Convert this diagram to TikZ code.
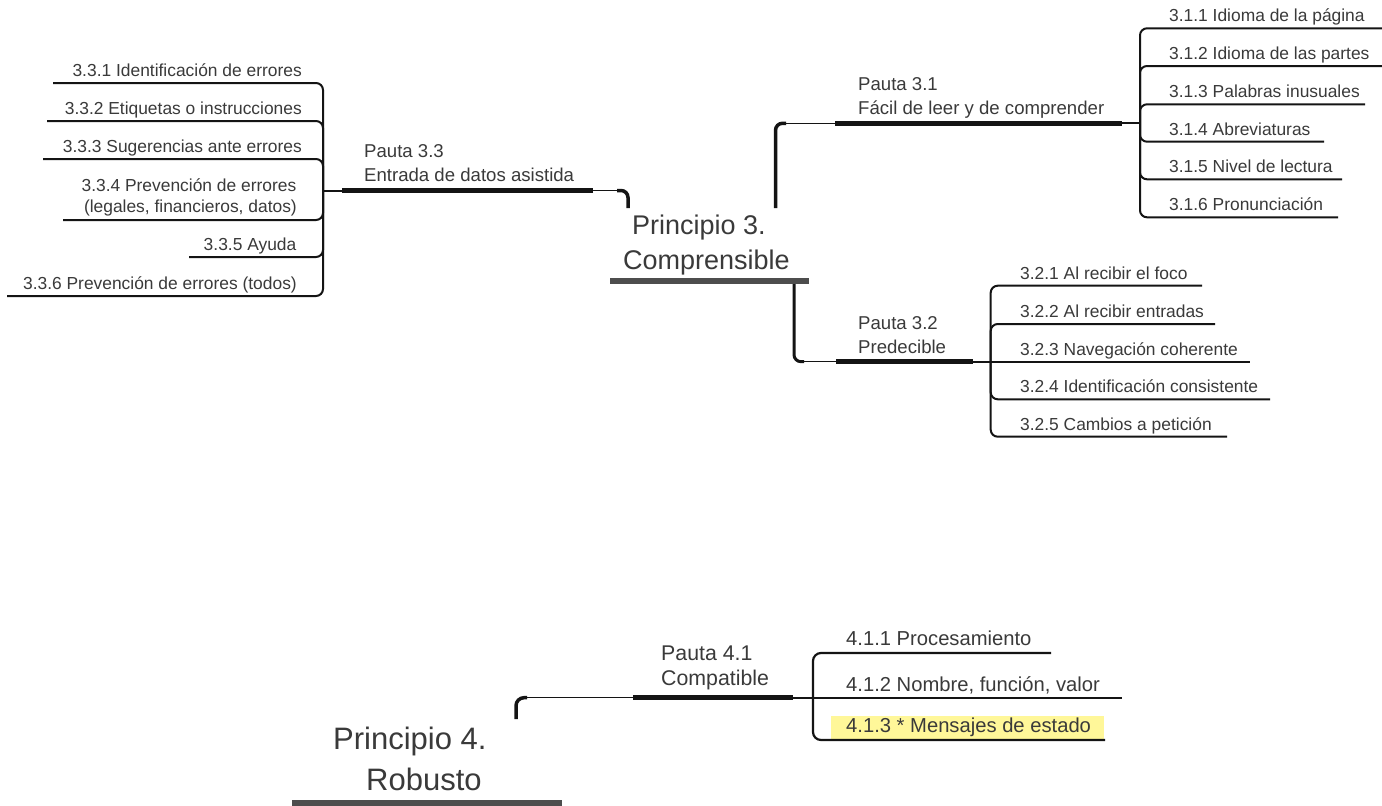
\documentclass[tikz,border=0pt]{standalone}
\usepackage{fontspec}
\setmainfont{Liberation Sans}
\definecolor{textgray}{HTML}{3A3A3A}
\definecolor{ink}{HTML}{141414}
\definecolor{barcol}{HTML}{4D4D4D}
\definecolor{hl}{HTML}{FFF799}
\begin{document}
\begin{tikzpicture}[x=1pt,y=-1pt,
  leaftxt/.style={inner sep=0pt, text=textgray, font=\fontsize{17.4}{21.5}\selectfont},
  leaftxtL/.style={inner sep=0pt, text=textgray, font=\fontsize{20.2}{24}\selectfont},
  pautatxt/.style={inner sep=0pt, text=textgray, font=\fontsize{18.6}{24}\selectfont},
  pautatxtL/.style={inner sep=0pt, text=textgray, font=\fontsize{21.3}{25}\selectfont},
  roottxt/.style={inner sep=0pt, text=textgray, font=\fontsize{27}{32}\selectfont},
  roottxtL/.style={inner sep=0pt, text=textgray, font=\fontsize{31}{36}\selectfont},
  leaf/.style={draw=ink, line width=2pt, rounded corners=7pt},
  leafL/.style={draw=ink, line width=2.2pt, rounded corners=8pt},
  stem/.style={draw=ink, line width=3.5pt, rounded corners=7pt},
  link/.style={draw=ink, line width=1.4pt},
  under/.style={draw=ink, line width=4.5pt},
  rootbar/.style={fill=barcol}
]
\useasboundingbox (0,0) rectangle (1382,806);
\fill[white] (0,0) rectangle (1382,806);

% ---------- Principio 3 ----------
\fill[rootbar] (610,278) rectangle (809,284);
\node[roottxt, anchor=base west] (p3a) at (632,234) {Principio 3.};
\node[roottxt, anchor=base west] (p3b) at (623,269) {Comprensible};

% Pauta 3.1 branch
\coordinate (s31) at (775.5,208);
\coordinate (k31) at (786,123.3);
\coordinate (u31a) at (835,123.3);
\coordinate (u31b) at (1122,123.3);
\coordinate (b31) at (1140,123.3);
\draw[stem] (s31) |- (k31);
\draw[link] (k31) -- (u31a);
\draw[under] (u31a) -- (u31b);
\draw[draw=ink, line width=2pt] (u31b) -- (b31);
\node[pautatxt, anchor=base west] (t31a) at (858,90.5) {Pauta 3.1};
\node[pautatxt, anchor=base west] (t31b) at (858,114.5) {Fácil de leer y de comprender};

\coordinate (e311) at (1382,28.3);
\coordinate (e312) at (1382,66);
\coordinate (e313) at (1365,104.3);
\coordinate (e314) at (1324,141.7);
\coordinate (e315) at (1342,179.3);
\coordinate (e316) at (1338,217.3);
\foreach \c in {e311,e312,e313,e314,e315,e316} \draw[leaf] (b31) |- (\c);
\node[leaftxt, anchor=base west] (n311) at (1169,21.7) {3.1.1 Idioma de la página};
\node[leaftxt, anchor=base west] (n312) at (1169,59.4) {3.1.2 Idioma de las partes};
\node[leaftxt, anchor=base west] (n313) at (1169,97.7) {3.1.3 Palabras inusuales};
\node[leaftxt, anchor=base west] (n314) at (1169,135.1) {3.1.4 Abreviaturas};
\node[leaftxt, anchor=base west] (n315) at (1169,172.7) {3.1.5 Nivel de lectura};
\node[leaftxt, anchor=base west] (n316) at (1169,210.7) {3.1.6 Pronunciación};

% Pauta 3.2 branch
\coordinate (s32) at (794,284);
\coordinate (k32) at (804,361.7);
\coordinate (u32a) at (836,361.7);
\coordinate (u32b) at (973,361.7);
\coordinate (b32) at (990.7,361.7);
\draw[stem, line width=3pt] (s32) |- (k32);
\draw[link] (k32) -- (u32a);
\draw[under] (u32a) -- (u32b);
\draw[draw=ink, line width=2pt] (u32b) -- (b32);
\node[pautatxt, anchor=base west] (t32a) at (858,329) {Pauta 3.2};
\node[pautatxt, anchor=base west] (t32b) at (858,353.3) {Predecible};

\coordinate (e321) at (1202,285.7);
\coordinate (e322) at (1215,324);
\coordinate (e323) at (1250,361.7);
\coordinate (e324) at (1270,399.3);
\coordinate (e325) at (1227,436.7);
\foreach \c in {e321,e322,e324,e325} \draw[leaf] (b32) |- (\c);
\draw[draw=ink, line width=2pt] (b32) -- (e323);
\node[leaftxt, anchor=base west] (n321) at (1020,279.2) {3.2.1 Al recibir el foco};
\node[leaftxt, anchor=base west] (n322) at (1020,317.4) {3.2.2 Al recibir entradas};
\node[leaftxt, anchor=base west] (n323) at (1020,355.1) {3.2.3 Navegación coherente};
\node[leaftxt, anchor=base west] (n324) at (1020,392.7) {3.2.4 Identificación consistente};
\node[leaftxt, anchor=base west] (n325) at (1020,430.1) {3.2.5 Cambios a petición};

% Pauta 3.3 branch
\coordinate (s33) at (628,208);
\coordinate (k33) at (617,190.5);
\coordinate (u33a) at (593,190.5);
\coordinate (u33b) at (342,190.5);
\coordinate (b33) at (323,190.5);
\draw[stem] (s33) |- (k33);
\draw[link] (k33) -- (u33a);
\draw[under] (u33a) -- (u33b);
\draw[draw=ink, line width=2pt] (u33b) -- (b33);
\node[pautatxt, anchor=base west] (t33a) at (364,157.3) {Pauta 3.3};
\node[pautatxt, anchor=base west] (t33b) at (364,181.7) {Entrada de datos asistida};

\coordinate (e331) at (53,83);
\coordinate (e332) at (47,121);
\coordinate (e333) at (43,159);
\coordinate (e334) at (63,220);
\coordinate (e335) at (189,257);
\coordinate (e336) at (7,296);
\foreach \c in {e331,e332,e333,e334,e335,e336} \draw[leaf] (b33) |- (\c);
\node[leaftxt, anchor=base east] (n331) at (302,76.6) {3.3.1 Identificación de errores};
\node[leaftxt, anchor=base east] (n332) at (302,114.5) {3.3.2 Etiquetas o instrucciones};
\node[leaftxt, anchor=base east] (n333) at (302,152.5) {3.3.3 Sugerencias ante errores};
\node[leaftxt, anchor=base east] (n334a) at (296.5,191.5) {3.3.4 Prevención de errores};
\node[leaftxt, anchor=base east] (n334b) at (297,212.5) {(legales, financieros, datos)};
\node[leaftxt, anchor=base east] (n335) at (296.5,250.5) {3.3.5 Ayuda};
\node[leaftxt, anchor=base east] (n336) at (297,289.3) {3.3.6 Prevención de errores (todos)};

% ---------- Principio 4 ----------
\fill[rootbar] (292,800) rectangle (562,808);
\node[roottxtL, anchor=base west] (p4a) at (333,749) {Principio 4.};
\node[roottxtL, anchor=base west] (p4b) at (366,790) {Robusto};

\coordinate (s41) at (516,719);
\coordinate (k41) at (527,697.7);
\coordinate (u41a) at (633,697.7);
\coordinate (u41b) at (793,697.7);
\coordinate (b41) at (813,697.7);
\draw[stem, rounded corners=8pt] (s41) |- (k41);
\draw[link] (k41) -- (u41a);
\draw[under] (u41a) -- (u41b);
\draw[draw=ink, line width=2.2pt] (u41b) -- (b41);
\node[pautatxtL, anchor=base west] (t41a) at (661,660) {Pauta 4.1};
\node[pautatxtL, anchor=base west] (t41b) at (661,685) {Compatible};

\fill[hl] (831,716) rectangle (1104,738.5);
\coordinate (e411) at (1051,653);
\coordinate (e412) at (1122,697.7);
\coordinate (e413) at (1105,740);
\draw[leafL] (b41) |- (e411);
\draw[draw=ink, line width=2.2pt] (b41) -- (e412);
\draw[leafL] (b41) |- (e413);
\node[leaftxtL, anchor=base west] (n411) at (846,645) {4.1.1 Procesamiento};
\node[leaftxtL, anchor=base west] (n412) at (846,691) {4.1.2 Nombre, función, valor};
\node[leaftxtL, anchor=base west] (n413) at (846,732) {4.1.3 * Mensajes de estado};
\end{tikzpicture}
\end{document}
